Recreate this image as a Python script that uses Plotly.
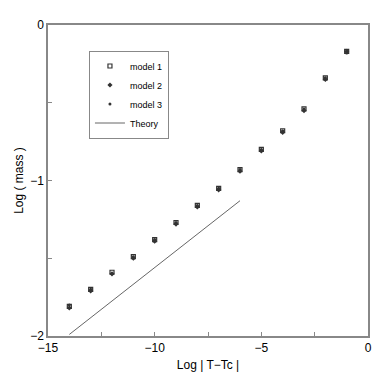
import plotly.graph_objects as go

log_t = [-14, -13, -12, -11, -10, -9, -8, -7, -6, -5, -4, -3, -2, -1]
model_1 = [-1.81, -1.70, -1.59, -1.49, -1.38, -1.27, -1.16, -1.05, -0.93, -0.80, -0.68, -0.54, -0.34, -0.17]
model_2 = [-1.82, -1.71, -1.60, -1.50, -1.39, -1.28, -1.17, -1.06, -0.94, -0.81, -0.69, -0.55, -0.35, -0.17]
model_3 = [-1.80, -1.70, -1.60, -1.49, -1.38, -1.27, -1.16, -1.05, -0.93, -0.80, -0.68, -0.54, -0.34, -0.18]
theory_x = [-14, -6]
theory_y = [-1.99, -1.13]

font = "Liberation Sans, Arial, sans-serif"

fig = go.Figure()
fig.add_trace(go.Scatter(x=log_t, y=model_1, mode="markers", name="model 1",
                         marker=dict(symbol="square-open", size=4, color="#333",
                                     line=dict(width=1.2, color="#333"))))
fig.add_trace(go.Scatter(x=log_t, y=model_2, mode="markers", name="model 2",
                         marker=dict(symbol="diamond", size=4, color="#333")))
fig.add_trace(go.Scatter(x=log_t, y=model_3, mode="markers", name="model 3",
                         marker=dict(symbol="circle", size=3, color="#333")))
fig.add_trace(go.Scatter(x=theory_x, y=theory_y, mode="lines", name="Theory",
                         line=dict(color="#666", width=1)))

axis_style = dict(showgrid=False, zeroline=False, showline=True, mirror=True,
                  linecolor="#888", linewidth=1.5, ticks="inside", ticklen=4,
                  tickcolor="#888",
                  tickfont=dict(size=12, color="black", family=font))

fig.update_xaxes(range=[-15, 0], tickmode="linear", tick0=0, dtick=5,
                 minor=dict(dtick=2.5, ticks="inside", ticklen=4, tickcolor="#888"),
                 title=dict(text="Log | T\u2212Tc |", font=dict(size=12, family=font), standoff=6),
                 **axis_style)
fig.update_yaxes(range=[-2, 0], tickmode="linear", tick0=0, dtick=1,
                 minor=dict(dtick=0.5, ticks="inside", ticklen=4, tickcolor="#888"),
                 title=dict(text="Log ( mass )", font=dict(size=12, family=font), standoff=4),
                 **axis_style)

# page body adds an 8px margin, so the figure is a bit smaller than the window
fig.update_layout(
    width=374, height=374,
    margin=dict(l=36, r=10, t=10, b=46),
    plot_bgcolor="white", paper_bgcolor="white",
    font=dict(family=font, color="black"),
    legend=dict(x=0.128, y=0.918, xanchor="left", yanchor="top",
                bgcolor="white", bordercolor="#888", borderwidth=1,
                font=dict(size=9, family=font), itemwidth=30,
                tracegroupgap=0),
)

fig.write_html("out.html")
